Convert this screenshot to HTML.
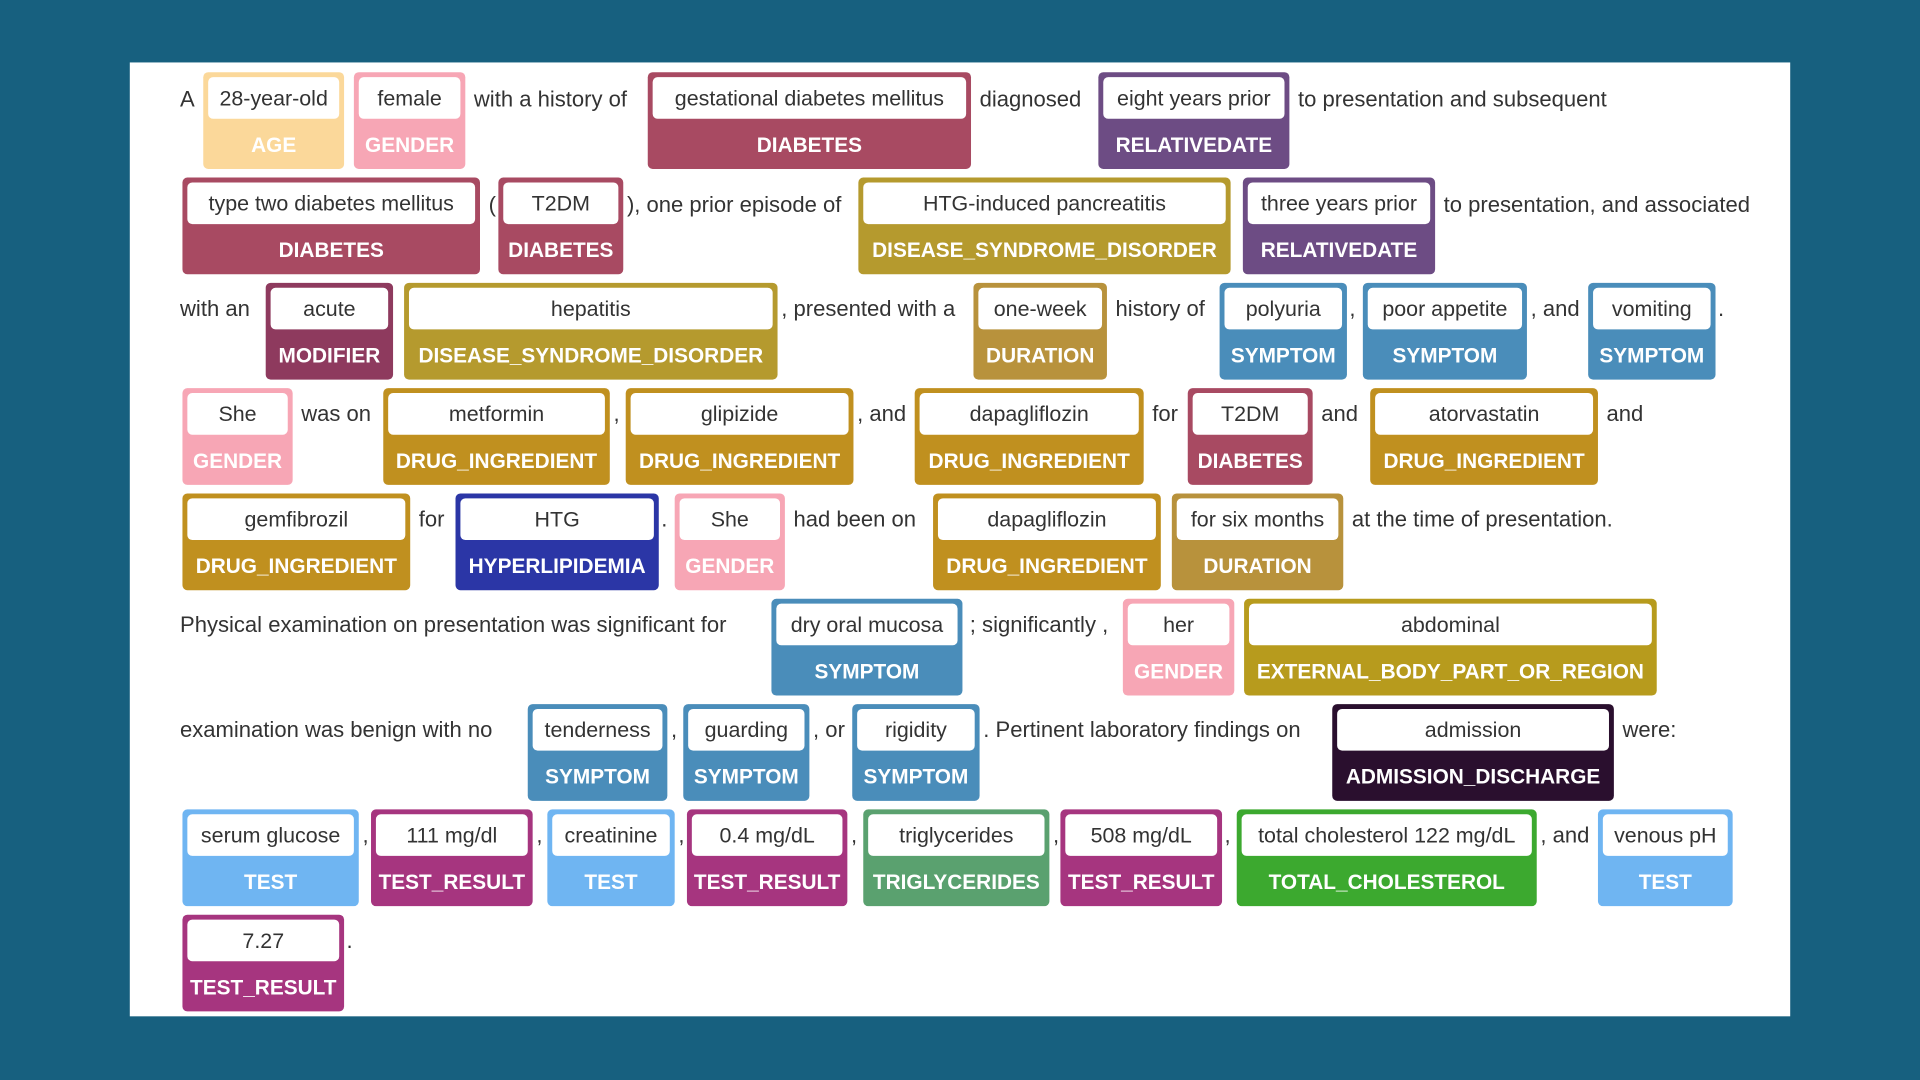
<!DOCTYPE html>
<html><head><meta charset="utf-8">
<style>
html,body{margin:0;padding:0;width:1920px;height:1080px;overflow:hidden;background:#17607f;}
#s{position:absolute;left:0;top:0;width:1568px;height:882px;transform:scale(1.22449);transform-origin:0 0;font-family:"Liberation Sans",sans-serif;}
#p{position:absolute;left:106px;top:51px;width:1356px;height:779px;background:#fff;}
.e{position:absolute;height:79px;border-radius:4px;box-sizing:border-box;}
.w{position:absolute;left:4px;right:4px;top:4px;height:34px;background:#fff;border-radius:4px;color:#333;font-size:17.5px;line-height:34px;text-align:center;white-space:nowrap;}
.l{position:absolute;left:0;right:0;top:48px;line-height:24px;text-align:center;color:#fff;font-size:17px;font-weight:bold;white-space:nowrap;}
.t{position:absolute;font-size:18px;line-height:24px;color:#333;white-space:nowrap;}
.AGE{background:#fbd89a}.GEN{background:#f7a6b5}.DIA{background:#a84a62}.REL{background:#6d4c84}
.DIS{background:#b59a2e}.MOD{background:#8e3a5e}.DUR{background:#b8923c}.SYM{background:#4a8dba}
.DRU{background:#c0901f}.HYP{background:#2b36a6}.EXT{background:#b79b1d}.ADM{background:#2a0f2e}
.TST{background:#6fb5f2}.RES{background:#a6357f}.TRI{background:#5aa16f}.TOT{background:#3ca92f}
</style></head><body><div id="s"><div id="p"></div>

<!-- row1 -->
<div class="t" style="left:147px;top:69px">A</div>
<div class="e AGE" style="left:166px;top:59px;width:115px"><div class="w">28-year-old</div><div class="l">AGE</div></div>
<div class="e GEN" style="left:289px;top:59px;width:91px"><div class="w">female</div><div class="l">GENDER</div></div>
<div class="t" style="left:387px;top:69px">with a history of</div>
<div class="e DIA" style="left:529px;top:59px;width:264px"><div class="w">gestational diabetes mellitus</div><div class="l">DIABETES</div></div>
<div class="t" style="left:800px;top:69px">diagnosed</div>
<div class="e REL" style="left:897px;top:59px;width:156px"><div class="w">eight years prior</div><div class="l">RELATIVEDATE</div></div>
<div class="t" style="left:1060px;top:69px">to presentation and subsequent</div>

<!-- row2 -->
<div class="e DIA" style="left:149px;top:145px;width:243px"><div class="w">type two diabetes mellitus</div><div class="l">DIABETES</div></div>
<div class="t" style="left:399px;top:155px">(</div>
<div class="e DIA" style="left:407px;top:145px;width:102px"><div class="w">T2DM</div><div class="l">DIABETES</div></div>
<div class="t" style="left:512px;top:155px">), one prior episode of</div>
<div class="e DIS" style="left:701px;top:145px;width:304px"><div class="w">HTG-induced pancreatitis</div><div class="l">DISEASE_SYNDROME_DISORDER</div></div>
<div class="e REL" style="left:1015px;top:145px;width:157px"><div class="w">three years prior</div><div class="l">RELATIVEDATE</div></div>
<div class="t" style="left:1179px;top:155px">to presentation, and associated</div>

<!-- row3 -->
<div class="t" style="left:147px;top:240px">with an</div>
<div class="e MOD" style="left:217px;top:231px;width:104px"><div class="w">acute</div><div class="l">MODIFIER</div></div>
<div class="e DIS" style="left:330px;top:231px;width:305px"><div class="w">hepatitis</div><div class="l">DISEASE_SYNDROME_DISORDER</div></div>
<div class="t" style="left:638px;top:240px">, presented with a</div>
<div class="e DUR" style="left:795px;top:231px;width:109px"><div class="w">one-week</div><div class="l">DURATION</div></div>
<div class="t" style="left:911px;top:240px">history of</div>
<div class="e SYM" style="left:996px;top:231px;width:104px"><div class="w">polyuria</div><div class="l">SYMPTOM</div></div>
<div class="t" style="left:1102px;top:240px">,</div>
<div class="e SYM" style="left:1113px;top:231px;width:134px"><div class="w">poor appetite</div><div class="l">SYMPTOM</div></div>
<div class="t" style="left:1250px;top:240px">, and</div>
<div class="e SYM" style="left:1297px;top:231px;width:104px"><div class="w">vomiting</div><div class="l">SYMPTOM</div></div>
<div class="t" style="left:1403px;top:240px">.</div>

<!-- row4 -->
<div class="e GEN" style="left:149px;top:317px;width:90px"><div class="w">She</div><div class="l">GENDER</div></div>
<div class="t" style="left:246px;top:326px">was on</div>
<div class="e DRU" style="left:313px;top:317px;width:185px"><div class="w">metformin</div><div class="l">DRUG_INGREDIENT</div></div>
<div class="t" style="left:501px;top:326px">,</div>
<div class="e DRU" style="left:511px;top:317px;width:186px"><div class="w">glipizide</div><div class="l">DRUG_INGREDIENT</div></div>
<div class="t" style="left:700px;top:326px">, and</div>
<div class="e DRU" style="left:747px;top:317px;width:187px"><div class="w">dapagliflozin</div><div class="l">DRUG_INGREDIENT</div></div>
<div class="t" style="left:941px;top:326px">for</div>
<div class="e DIA" style="left:970px;top:317px;width:102px"><div class="w">T2DM</div><div class="l">DIABETES</div></div>
<div class="t" style="left:1079px;top:326px">and</div>
<div class="e DRU" style="left:1119px;top:317px;width:186px"><div class="w">atorvastatin</div><div class="l">DRUG_INGREDIENT</div></div>
<div class="t" style="left:1312px;top:326px">and</div>

<!-- row5 -->
<div class="e DRU" style="left:149px;top:403px;width:186px"><div class="w">gemfibrozil</div><div class="l">DRUG_INGREDIENT</div></div>
<div class="t" style="left:342px;top:412px">for</div>
<div class="e HYP" style="left:372px;top:403px;width:166px"><div class="w">HTG</div><div class="l">HYPERLIPIDEMIA</div></div>
<div class="t" style="left:540px;top:412px">.</div>
<div class="e GEN" style="left:551px;top:403px;width:90px"><div class="w">She</div><div class="l">GENDER</div></div>
<div class="t" style="left:648px;top:412px">had been on</div>
<div class="e DRU" style="left:762px;top:403px;width:186px"><div class="w">dapagliflozin</div><div class="l">DRUG_INGREDIENT</div></div>
<div class="e DUR" style="left:957px;top:403px;width:140px"><div class="w">for six months</div><div class="l">DURATION</div></div>
<div class="t" style="left:1104px;top:412px">at the time of presentation.</div>

<!-- row6 -->
<div class="t" style="left:147px;top:498px">Physical examination on presentation was significant for</div>
<div class="e SYM" style="left:630px;top:489px;width:156px"><div class="w">dry oral mucosa</div><div class="l">SYMPTOM</div></div>
<div class="t" style="left:792px;top:498px">; significantly ,</div>
<div class="e GEN" style="left:917px;top:489px;width:91px"><div class="w">her</div><div class="l">GENDER</div></div>
<div class="e EXT" style="left:1016px;top:489px;width:337px"><div class="w">abdominal</div><div class="l">EXTERNAL_BODY_PART_OR_REGION</div></div>

<!-- row7 -->
<div class="t" style="left:147px;top:584px">examination was benign with no</div>
<div class="e SYM" style="left:431px;top:575px;width:114px"><div class="w">tenderness</div><div class="l">SYMPTOM</div></div>
<div class="t" style="left:548px;top:584px">,</div>
<div class="e SYM" style="left:558px;top:575px;width:103px"><div class="w">guarding</div><div class="l">SYMPTOM</div></div>
<div class="t" style="left:664px;top:584px">, or</div>
<div class="e SYM" style="left:696px;top:575px;width:104px"><div class="w">rigidity</div><div class="l">SYMPTOM</div></div>
<div class="t" style="left:803px;top:584px">. Pertinent laboratory findings on</div>
<div class="e ADM" style="left:1088px;top:575px;width:230px"><div class="w">admission</div><div class="l">ADMISSION_DISCHARGE</div></div>
<div class="t" style="left:1325px;top:584px">were:</div>

<!-- row8 -->
<div class="e TST" style="left:149px;top:661px;width:144px"><div class="w">serum glucose</div><div class="l">TEST</div></div>
<div class="t" style="left:296px;top:670px">,</div>
<div class="e RES" style="left:303px;top:661px;width:132px"><div class="w">111 mg/dl</div><div class="l">TEST_RESULT</div></div>
<div class="t" style="left:438px;top:670px">,</div>
<div class="e TST" style="left:447px;top:661px;width:104px"><div class="w">creatinine</div><div class="l">TEST</div></div>
<div class="t" style="left:554px;top:670px">,</div>
<div class="e RES" style="left:561px;top:661px;width:131px"><div class="w">0.4 mg/dL</div><div class="l">TEST_RESULT</div></div>
<div class="t" style="left:695px;top:670px">,</div>
<div class="e TRI" style="left:705px;top:661px;width:152px"><div class="w">triglycerides</div><div class="l">TRIGLYCERIDES</div></div>
<div class="t" style="left:860px;top:670px">,</div>
<div class="e RES" style="left:866px;top:661px;width:132px"><div class="w">508 mg/dL</div><div class="l">TEST_RESULT</div></div>
<div class="t" style="left:1000px;top:670px">,</div>
<div class="e TOT" style="left:1010px;top:661px;width:245px"><div class="w">total cholesterol 122 mg/dL</div><div class="l">TOTAL_CHOLESTEROL</div></div>
<div class="t" style="left:1258px;top:670px">, and</div>
<div class="e TST" style="left:1305px;top:661px;width:110px"><div class="w">venous pH</div><div class="l">TEST</div></div>

<!-- row9 -->
<div class="e RES" style="left:149px;top:747px;width:132px"><div class="w">7.27</div><div class="l">TEST_RESULT</div></div>
<div class="t" style="left:283px;top:756px">.</div>

</div></body></html>
